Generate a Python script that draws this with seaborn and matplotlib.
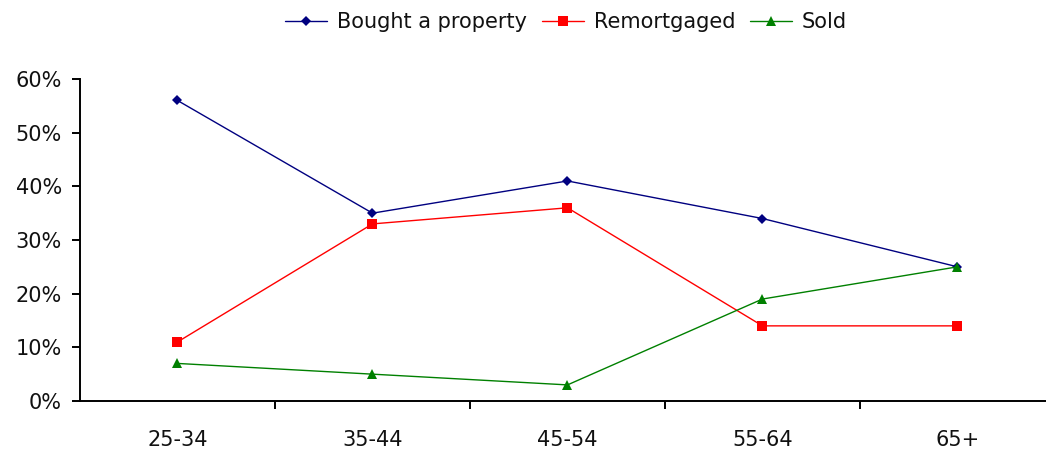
import numpy as np
import pandas as pd
import seaborn as sns
import matplotlib.pyplot as plt
from matplotlib.ticker import FixedLocator, PercentFormatter

# data
ages = ["25-34", "35-44", "45-54", "55-64", "65+"]
bought = [56, 35, 41, 34, 25]
remortgaged = [11, 33, 36, 14, 14]
sold = [7, 5, 3, 19, 25]

series_names = ["Bought a property", "Remortgaged", "Sold"]

df = pd.DataFrame({"age": ages, "Bought a property": bought,
                   "Remortgaged": remortgaged, "Sold": sold})
long = df.melt(id_vars="age", var_name="series", value_name="pct")
long["x"] = long["age"].map({a: i for i, a in enumerate(ages)})
long["pct"] = long["pct"] / 100

sns.set_theme(style="white")
plt.rcParams["font.family"] = ["DejaVu Sans"]

fig = plt.figure(figsize=(10.46, 4.54), dpi=100)
ax = fig.add_axes([80 / 1046, 53 / 454, 966 / 1046, 322 / 454])

palette = {"Bought a property": "#000080", "Remortgaged": "#FF0000", "Sold": "#008000"}
markers = {"Bought a property": "D", "Remortgaged": "s", "Sold": "^"}
sizes = {"Bought a property": 5, "Remortgaged": 7, "Sold": 7.5}

sns.lineplot(data=long, x="x", y="pct", hue="series", style="series",
             hue_order=series_names, style_order=series_names,
             palette=palette, markers=markers, dashes=False,
             linewidth=1, markersize=7, markeredgewidth=0, ax=ax)

# marker size per series
for line, name in zip(ax.lines, series_names):
    line.set_markersize(sizes[name])

ax.set_xlim(-0.5, 4.5 - 9 / 195.5)
ax.set_ylim(0, 0.6)
ax.yaxis.set_major_locator(FixedLocator(np.arange(0, 0.61, 0.1)))
ax.yaxis.set_major_formatter(PercentFormatter(1.0, decimals=0))
ax.set_xticks(range(len(ages)))
ax.set_xticklabels(ages)
ax.xaxis.set_minor_locator(FixedLocator(np.arange(0.5, 4.5, 1)))

ax.tick_params(axis="x", which="major", length=0, pad=21, labelsize=15, colors="#111111")
ax.tick_params(axis="x", which="minor", length=6, width=1.4, direction="out", color="black", bottom=True)
ax.tick_params(axis="y", length=6, width=1.4, direction="out", labelsize=15, pad=7,
               color="black", labelcolor="#111111", left=True)

for side in ["top", "right"]:
    ax.spines[side].set_visible(False)
for side in ["left", "bottom"]:
    ax.spines[side].set_color("black")
    ax.spines[side].set_linewidth(1.4)

ax.set_xlabel("")
ax.set_ylabel("")

handles, labels = ax.get_legend_handles_labels()
leg = ax.legend(handles, labels, loc="center", bbox_to_anchor=(566 / 1046, 1 - 22 / 454),
                bbox_transform=fig.transFigure, ncol=3, frameon=False, fontsize=15,
                handlelength=2.0, handletextpad=0.48, columnspacing=0.72, labelcolor="#111111")
for h, name in zip(leg.legend_handles, labels):
    h.set_markersize(sizes.get(name, 7))
    h.set_markeredgewidth(0)

fig.savefig("out.png", dpi=100)
